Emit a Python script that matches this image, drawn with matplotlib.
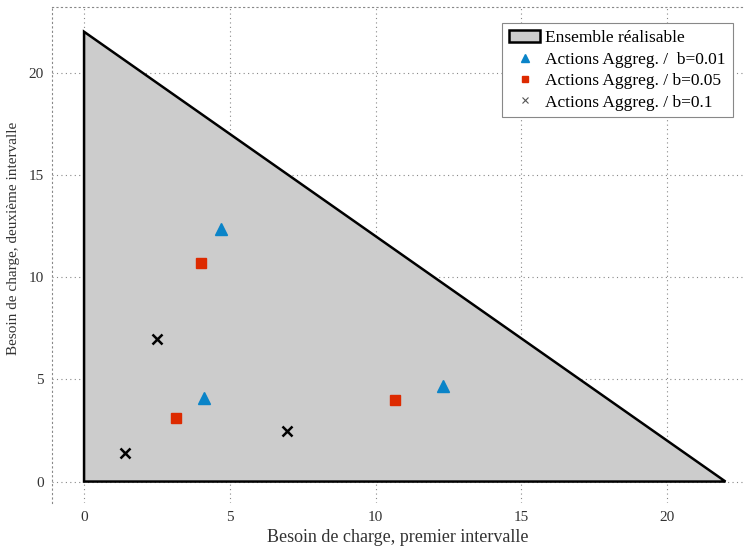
import matplotlib
matplotlib.use("Agg")
import matplotlib.pyplot as plt
from matplotlib.patches import Polygon

plt.rcParams["font.family"] = ["Liberation Serif", "DejaVu Serif"]

# feasible set (triangle)
region_x = [0, 0, 22]
region_y = [0, 22, 0]

# aggregated actions per b value
b001_x = [4.7, 4.1, 12.3]
b001_y = [12.35, 4.1, 4.65]
b005_x = [4.0, 3.15, 10.65]
b005_y = [10.7, 3.1, 4.0]
b01_x = [2.5, 1.4, 6.95]
b01_y = [6.95, 1.4, 2.45]

xticks = [0, 5, 10, 15, 20]
yticks = [0, 5, 10, 15, 20]

fig = plt.figure(figsize=(7.47, 5.54), dpi=100)
ax = fig.add_axes([0.0696, 0.092, 0.925, 0.895])

ax.set_xlim(-1.1, 22.6)
ax.set_ylim(-1.05, 23.2)
ax.set_xticks(xticks)
ax.set_yticks(yticks)
ax.grid(True, linestyle=(0, (1, 3)), color="#888888", linewidth=0.8, zorder=0)
ax.tick_params(length=0, labelsize=11, colors="#333333", pad=6)
for side in ["left", "top"]:
    ax.spines[side].set_linestyle((0, (1, 3)))
    ax.spines[side].set_color("#888888")
    ax.spines[side].set_linewidth(0.8)
for side in ["right", "bottom"]:
    ax.spines[side].set_visible(False)
ax.set_axisbelow(True)

region = Polygon(list(zip(region_x, region_y)), closed=True, facecolor="#cccccc",
                 edgecolor="black", linewidth=1.8, zorder=2, label="Ensemble réalisable")
ax.add_patch(region)

ax.plot(b001_x, b001_y, linestyle="none", marker="^", markersize=9, color="#0a84c8",
        zorder=3, label="Actions Aggreg. /  b=0.01")
ax.plot(b005_x, b005_y, linestyle="none", marker="s", markersize=7.5, color="#dd2a00",
        zorder=3, label="Actions Aggreg. / b=0.05")
ax.plot(b01_x, b01_y, linestyle="none", marker="x", markersize=7, markeredgewidth=1.8,
        color="black", zorder=3, label="Actions Aggreg. / b=0.1")

ax.set_xlabel("Besoin de charge, premier intervalle", fontsize=13, color="#333333", labelpad=3)
ax.set_ylabel("Besoin de charge, deuxième intervalle", fontsize=11, color="#333333", labelpad=4)
ax.yaxis.set_label_coords(-0.047, 0.534)

leg = ax.legend(loc="upper right", bbox_to_anchor=(0.998, 0.985), fontsize=12.5,
                frameon=True, fancybox=False, framealpha=1, edgecolor="#888888",
                markerscale=0.6, handlelength=1.8, handletextpad=0.3, borderpad=0.4,
                labelspacing=0.3)
leg.get_frame().set_linewidth(0.8)
leg.legend_handles[0].set_linewidth(1.8)
leg.legend_handles[3].set_markeredgewidth(0.8)
leg.legend_handles[3].set_color("#555555")

fig.savefig("out.png", dpi=100)
